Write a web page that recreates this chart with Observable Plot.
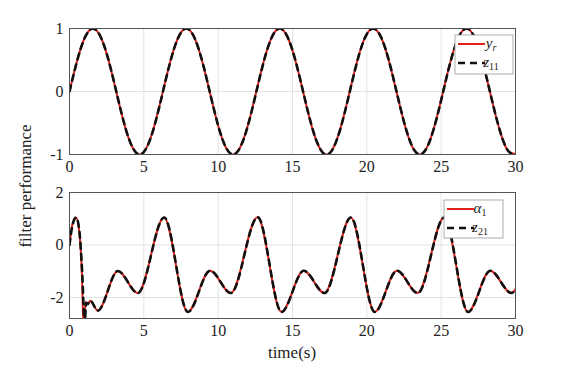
<!DOCTYPE html>
<html><head><meta charset="utf-8">
<script src="https://cdn.jsdelivr.net/npm/d3@7"></script>
<script src="https://cdn.jsdelivr.net/npm/@observablehq/plot@0.6"></script>
<style>
body{margin:0;background:#fff;}
#wrap{position:relative;width:575px;height:371px;font-family:"Liberation Serif",serif;overflow:hidden;}
.p{position:absolute;left:0;}
#ylab{position:absolute;left:26px;top:186px;transform:translate(-50%,-50%) rotate(-90deg);font-size:17px;white-space:nowrap;color:#222;}
#xlab{position:absolute;left:292px;top:353px;transform:translate(-50%,-50%);font-size:17px;color:#222;white-space:nowrap;}
</style></head>
<body>
<div id="wrap">
  <div id="top" class="p" style="top:0"></div>
  <div id="bot" class="p" style="top:185px"></div>
  <div id="ylab">filter performance</div>
  <div id="xlab">time(s)</div>
</div>
<script>
// ---- data ----
const xTicks = [0, 5, 10, 15, 20, 25, 30];
const yTopTicks = [-1, 0, 1];
const yBotTicks = [-2, 0, 2];

const tTop = [0,0.5,1,1.5,2,2.5,3,3.5,4,4.5,5,5.5,6,6.5,7,7.5,8,8.5,9,9.5,10,10.5,11,11.5,12,12.5,13,13.5,14,14.5,15,15.5,16,16.5,17,17.5,18,18.5,19,19.5,20,20.5,21,21.5,22,22.5,23,23.5,24,24.5,25,25.5,26,26.5,27,27.5,28,28.5,29,29.5,30];
const yr = [0,0.479,0.841,0.997,0.909,0.598,0.141,-0.351,-0.757,-0.978,-0.959,-0.706,-0.279,0.215,0.657,0.938,0.989,0.798,0.412,-0.075,-0.544,-0.880,-1.000,-0.875,-0.537,-0.066,0.420,0.804,0.991,0.935,0.650,0.206,-0.288,-0.712,-0.961,-0.978,-0.751,-0.342,0.150,0.606,0.913,0.997,0.837,0.472,-0.009,-0.487,-0.846,-0.998,-0.906,-0.591,-0.132,0.360,0.763,0.980,0.956,0.699,0.271,-0.224,-0.664,-0.942,-0.988];
const z11 = [0,0.475,0.838,0.996,0.911,0.602,0.146,-0.346,-0.753,-0.977,-0.960,-0.710,-0.284,0.210,0.653,0.936,0.990,0.801,0.417,-0.070,-0.540,-0.877,-1.000,-0.878,-0.541,-0.071,0.415,0.801,0.990,0.937,0.654,0.211,-0.283,-0.708,-0.960,-0.979,-0.755,-0.347,0.145,0.602,0.911,0.997,0.840,0.477,-0.004,-0.482,-0.843,-0.997,-0.908,-0.595,-0.137,0.355,0.760,0.979,0.958,0.703,0.276,-0.219,-0.660,-0.940,-0.989];

const tAlpha = [0,0.2,0.44,0.65,0.82,0.97,1.08,1.22,1.4,1.9,3.25,4.6,6.36,7.95,9.45,10.85,12.65,14.25,15.75,17.15,18.92,20.52,22.02,23.42,25.2,26.8,28.3,29.72,30];
const alpha1 = [0.02,0.8,1.05,0.55,-0.9,-3.4,-2.17,-2.25,-2.12,-2.5,-0.99,-1.83,1.05,-2.55,-0.98,-1.83,1.06,-2.55,-0.98,-1.83,1.05,-2.55,-0.98,-1.83,1.05,-2.55,-0.98,-1.83,-1.68];
const tZ21 = [0,0.2,0.45,0.67,0.85,1.02,1.12,1.22,1.4,1.9,3.25,4.6,6.37,7.96,9.46,10.86,12.66,14.26,15.76,17.16,18.93,20.53,22.03,23.43,25.21,26.81,28.31,29.73,30];
const z21 = [0,0.75,1.05,0.5,-1.0,-3.0,-2.2,-2.25,-2.13,-2.5,-0.99,-1.83,1.05,-2.55,-0.98,-1.83,1.06,-2.55,-0.98,-1.83,1.05,-2.55,-0.98,-1.83,1.05,-2.55,-0.98,-1.83,-1.69];

// ---- tables ----
const topData = tTop.map((t, i) => ({t, yr: yr[i], z11: z11[i]}));
const alphaData = tAlpha.map((t, i) => ({t, v: alpha1[i]}));
const z21Data = tZ21.map((t, i) => ({t, v: z21[i]}));

const RED = "#e3221b", BLK = "#111";
const SERIF = "Liberation Serif";
const fmt = d => `${d}`;
const common = {
  width: 575, marginLeft: 69, marginRight: 60,
  style: {fontFamily: SERIF, fontSize: "16px", color: "#222", background: "transparent", overflow: "visible"}
};
const gridStyle = {stroke: "#e2e2e2", strokeOpacity: 1, strokeWidth: 1};
const axisOpts = {tickSize: 0, tickFormat: fmt, label: null, fontSize: 16, fontFamily: SERIF, fill: "#222"};

const topPlot = Plot.plot({
  ...common, height: 185, marginTop: 28, marginBottom: 31,
  x: {domain: [0, 30]}, y: {domain: [-1, 1]},
  marks: [
    Plot.gridX(xTicks, gridStyle),
    Plot.gridY(yTopTicks, gridStyle),
    Plot.axisX(xTicks, {...axisOpts, tickPadding: 6}),
    Plot.axisY(yTopTicks, {...axisOpts, tickPadding: 6}),
    Plot.line(topData, {x: "t", y: "yr", stroke: RED, strokeWidth: 2, curve: "natural", clip: true}),
    Plot.line(topData, {x: "t", y: "z11", stroke: BLK, strokeWidth: 2.6, strokeDasharray: "6,5", curve: "natural", clip: true}),
    Plot.frame({stroke: "#555", strokeWidth: 1})
  ]
});

const botPlot = Plot.plot({
  ...common, height: 186, marginTop: 7, marginBottom: 53,
  x: {domain: [0, 30]}, y: {domain: [-2.8, 2]},
  marks: [
    Plot.gridX(xTicks, gridStyle),
    Plot.gridY(yBotTicks, gridStyle),
    Plot.axisX(xTicks, {...axisOpts, tickPadding: 6}),
    Plot.axisY(yBotTicks, {...axisOpts, tickPadding: 6}),
    Plot.line(alphaData, {x: "t", y: "v", stroke: RED, strokeWidth: 2, curve: "monotone-x", clip: true}),
    Plot.line(z21Data, {x: "t", y: "v", stroke: BLK, strokeWidth: 2.6, strokeDasharray: "6,5", curve: "monotone-x", clip: true}),
    Plot.frame({stroke: "#555", strokeWidth: 1})
  ]
});

document.getElementById("top").append(topPlot);
document.getElementById("bot").append(botPlot);

// ---- legends ----
function legend(svgNode, box, items) {
  const svg = d3.select(svgNode);
  const g = svg.append("g");
  g.append("rect").attr("x", box.x).attr("y", box.y).attr("width", box.w).attr("height", box.h)
    .attr("fill", "#fff").attr("stroke", "#9a9a9a").attr("stroke-width", 0.8);
  items.forEach((it, i) => {
    const y = box.y + box.rows[i];
    g.append("line").attr("x1", box.x + 3).attr("x2", box.x + 30).attr("y1", y).attr("y2", y)
      .attr("stroke", it.color).attr("stroke-width", it.dash ? 2.6 : 2)
      .attr("stroke-dasharray", it.dash ? "7,5" : null);
    const t = g.append("text").attr("x", box.x + 36).attr("y", y + 4)
      .attr("font-family", SERIF).attr("font-size", 15).attr("fill", "#222");
    t.append("tspan").attr("font-style", "italic").text(it.main);
    t.append("tspan").attr("dy", 3).attr("font-size", 10).attr("font-style", it.subItalic ? "italic" : "normal").text(it.sub);
  });
}
legend(topPlot, {x: 455, y: 35, w: 58, h: 39, rows: [9, 28]}, [
  {main: "y", sub: "r", subItalic: true, color: RED},
  {main: "z", sub: "11", color: BLK, dash: true}
]);
legend(botPlot, {x: 444, y: 15, w: 59, h: 38, rows: [9, 28]}, [
  {main: "α", sub: "1", color: RED},
  {main: "z", sub: "21", color: BLK, dash: true}
]);
</script>
</body></html>
